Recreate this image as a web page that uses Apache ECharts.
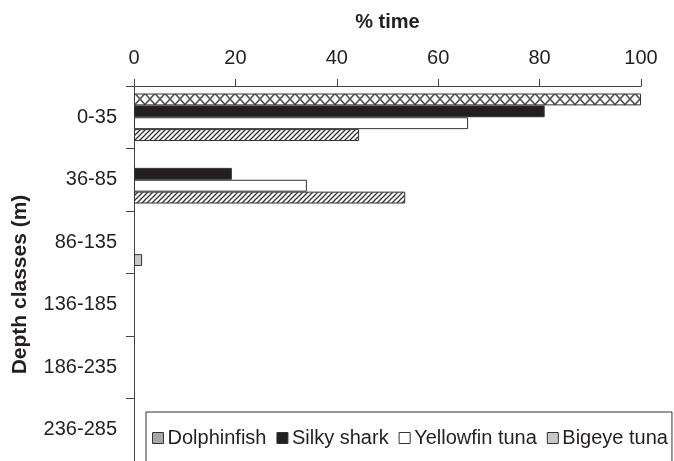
<!DOCTYPE html>
<html>
<head>
<meta charset="utf-8">
<script src="https://cdn.jsdelivr.net/npm/echarts@6/dist/echarts.min.js"></script>
<style>
html,body{margin:0;padding:0;background:#fff;}
#c{width:674px;height:461px;}
</style>
</head>
<body>
<div id="c"></div>
<script>
const categories = ['0-35', '36-85', '86-135', '136-185', '186-235', '236-285'];
const seriesNames = ['Dolphinfish', 'Silky shark', 'Yellowfin tuna', 'Bigeye tuna'];
const dolphinfish = [100, 0, 0, 0, 0, 0];
const silkyShark = [81.0, 19.3, 0, 0, 0, 0];
const yellowfinTuna = [65.9, 34.1, 0, 0, 0, 0];
const bigeyeTuna = [44.4, 53.5, 1.6, 0, 0, 0];
const xTicks = { min: 0, max: 100, interval: 20 };

function crossPattern() {
  const c = document.createElement('canvas');
  c.width = 10; c.height = 11;
  const g = c.getContext('2d');
  g.fillStyle = '#fff'; g.fillRect(0, 0, 10, 11);
  g.strokeStyle = '#555'; g.lineWidth = 1.6;
  g.beginPath();
  g.moveTo(0, 0); g.lineTo(10, 11);
  g.moveTo(10, 0); g.lineTo(0, 11);
  g.stroke();
  return { image: c, repeat: 'repeat' };
}
function hatchPattern() {
  const c = document.createElement('canvas');
  c.width = 5; c.height = 5;
  const g = c.getContext('2d');
  g.fillStyle = '#fff'; g.fillRect(0, 0, 5, 5);
  g.strokeStyle = '#333'; g.lineWidth = 1.3;
  g.beginPath();
  g.moveTo(-1, 6); g.lineTo(6, -1);
  g.moveTo(-1, 1); g.lineTo(1, -1);
  g.moveTo(4, 6); g.lineTo(6, 4);
  g.stroke();
  return { image: c, repeat: 'repeat' };
}

const fills = [crossPattern(), '#231f20', '#ffffff', hatchPattern()];
const legendColors = ['#a6a6a6', '#231f20', '#ffffff', '#c8c8c8'];
const values = [dolphinfish, silkyShark, yellowfinTuna, bigeyeTuna];

const series = values.map((arr, i) => ({
  name: seriesNames[i],
  type: 'bar',
  barGap: '0%',
  barCategoryGap: '24%',
  itemStyle: { color: fills[i], borderColor: '#333', borderWidth: 1 },
  data: arr.map(v => {
    if (v === 0) return '-';
    if (v < 3) return { value: v, itemStyle: { color: legendColors[i] } };
    return v;
  })
}));

const chart = echarts.init(document.getElementById('c'));
chart.setOption({
  animation: false,
  backgroundColor: '#fff',
  textStyle: { fontFamily: 'Liberation Sans, Arial, sans-serif' },
  grid: { left: 134, top: 86, width: 507, height: 378, containLabel: false },
  xAxis: {
    type: 'value',
    position: 'top',
    min: xTicks.min, max: xTicks.max, interval: xTicks.interval,
    name: '% time',
    nameLocation: 'middle',
    nameGap: 54,
    nameTextStyle: { fontSize: 20, fontWeight: 'bold', color: '#231f20' },
    axisLine: { show: true, lineStyle: { color: '#444', width: 1 } },
    axisTick: { show: true, length: 7, lineStyle: { color: '#444' } },
    axisLabel: { fontSize: 20, color: '#231f20', margin: 18 },
    splitLine: { show: false }
  },
  yAxis: {
    type: 'category',
    inverse: true,
    data: categories,
    name: 'Depth classes (m)',
    nameLocation: 'middle',
    nameGap: 103,
    nameTextStyle: { fontSize: 21, fontWeight: 'bold', color: '#231f20', padding: [0, 22, 0, 0] },
    axisLine: { show: true, lineStyle: { color: '#444', width: 1 } },
    axisTick: { show: true, length: 8, lineStyle: { color: '#444' } },
    axisLabel: { fontSize: 20, color: '#231f20', margin: 17 },
    splitLine: { show: false }
  },
  legend: {
    left: 146, top: 412,
    width: 540,
    orient: 'horizontal',
    backgroundColor: '#fff',
    borderColor: '#333', borderWidth: 1, borderRadius: 0,
    padding: [16, 4, 30, 6],
    itemWidth: 11, itemHeight: 11, itemGap: 10,
    icon: 'rect',
    textStyle: { fontSize: 20, color: '#231f20', padding: [0, 0, 0, -1] },
    data: seriesNames.map((n, i) => ({
      name: n,
      itemStyle: { color: legendColors[i], borderColor: '#333', borderWidth: 1, decal: 'none' }
    }))
  },
  series: series
});
</script>
</body>
</html>
